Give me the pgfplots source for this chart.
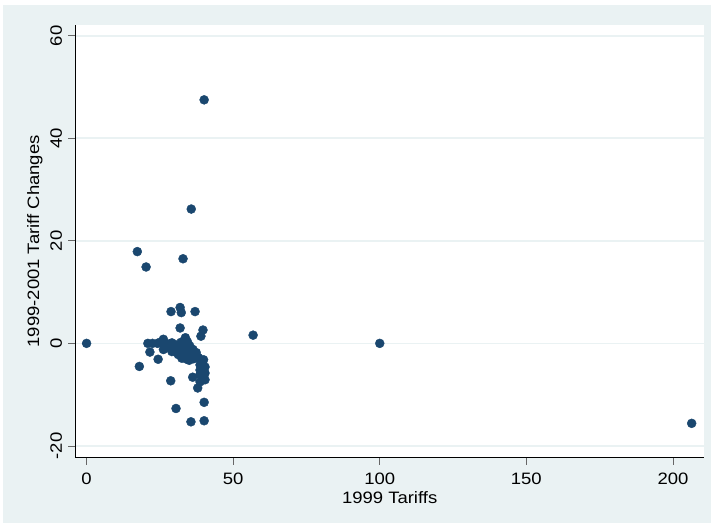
\documentclass[border=0pt]{standalone}
\usepackage{fontspec}
\setmainfont{Liberation Sans}[FakeStretch=1.12]
\usepackage{pgfplots}
\pgfplotsset{compat=1.18}
\definecolor{stbg}{RGB}{234,242,243}
\definecolor{stnavy}{RGB}{26,71,111}
\definecolor{stgrid}{RGB}{234,242,243}
\begin{document}
\begin{tikzpicture}
\useasboundingbox (0pt,0pt) rectangle (713pt,524pt);
\fill[white] (0pt,0pt) rectangle (713pt,524pt);
\fill[stbg] (3pt,1pt) rectangle (711pt,519pt);
\begin{axis}[
  at={(75.3pt,66.3pt)}, anchor=south west,
  scale only axis,
  width=628.7pt, height=432.7pt,
  xmin=-3.85, xmax=210.6,
  ymin=-22.3, ymax=62.1,
  axis lines*=left,
  axis line style={black, line width=0.8pt},
  axis background/.style={fill=white},
  xtick={0,50,100,150,200},
  ytick={-20,0,20,40,60},
  tick align=outside,
  major tick length=7pt,
  tick style={gray!80!black, line width=0.8pt},
  ymajorgrids,
  grid style={stgrid, line width=1.6pt},
  /pgf/number format/assume math mode=true,
  ticklabel style={font=\fontsize{16.5}{18}\selectfont},
  xticklabel style={anchor=north, inner sep=0pt},
  xticklabel shift=8pt,
  yticklabel style={rotate=90, anchor=south, inner sep=0pt},
  yticklabel shift=6pt,
  xlabel={1999 Tariffs},
  ylabel={1999-2001 Tariff Changes},
  label style={font=\fontsize{16.5}{18}\selectfont},
  xlabel style={at={(axis description cs:0.5,-0.0785)}, anchor=north, inner sep=0pt},
  ylabel style={at={(axis description cs:-0.0768,0.5)}, anchor=north, inner sep=0pt},
  clip=false,
]
\addplot[only marks, mark=*, mark size=4.5pt, color=stnavy, mark options={draw=stnavy, fill=stnavy}] coordinates {
(0,0) (17.3,17.9) (20.3,14.9) (32.9,16.5) (35.7,26.2) (40.1,47.5)
(56.8,1.6) (100,0) (206.4,-15.6)
(28.8,6.2) (31.9,7.0) (32.3,6.0) (37.0,6.2)
(31.9,3.0) (39.7,2.6) (39.0,1.4)
(20.9,0) (22.5,0) (24.2,0) (26.2,0.8) (27.4,-0.2) (29.1,0.1) (30.5,-0.3)
(32.2,0.2) (33.7,1.1) (34.4,0.3) (35.2,-0.5) (36.3,-1.2) (37.4,-1.8) (38.2,-2.8)
(28.4,-0.1) (25.0,0.2) (33.0,-0.5) (34.8,-1.5) (31.5,-1.0) (30.0,-1.2) (27.0,-0.8)
(21.6,-1.7) (24.4,-3.1) (18.0,-4.5) (26.2,-1.2) (29.1,-1.6) (31.3,-2.2)
(32.5,-2.9) (34.2,-3.1) (35.3,-2.5) (36.5,-3.0) (39.9,-3.2) (38.7,-4.2)
(40.4,-4.6) (38.7,-5.2) (40.4,-5.8) (38.7,-6.1) (36.2,-6.6) (40.4,-7.1)
(28.7,-7.3) (38.7,-7.5) (37.9,-8.7) (40.1,-11.5) (30.5,-12.7) (35.6,-15.3)
(40.1,-15.1)
(33.5,-2.0) (35.8,-1.8) (32.8,-1.5) (34.0,-0.3) (36.8,-2.4) (30.8,-1.8)
(33.9,-2.6) (35.0,-3.3) (39.6,-4.8) (39.6,-6.6)
};
\end{axis}
\end{tikzpicture}
\end{document}
